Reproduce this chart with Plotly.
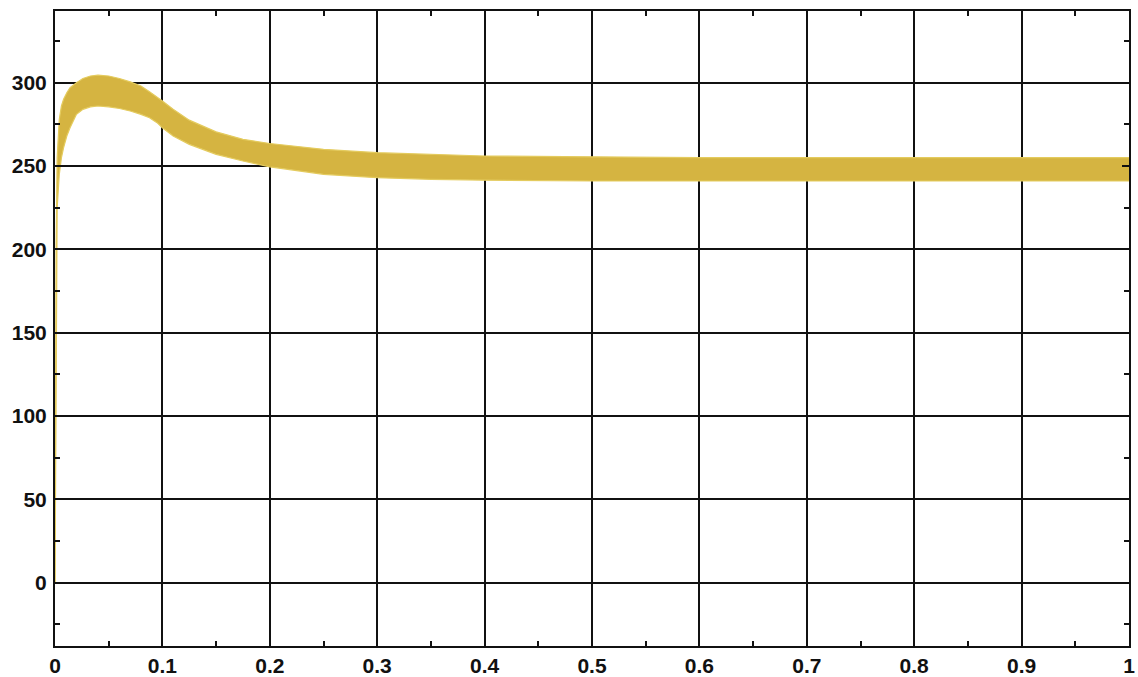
import plotly.graph_objects as go

# Envelope of the rippling signal
t = [0, 0.001, 0.002, 0.004, 0.006, 0.008, 0.011, 0.014, 0.02, 0.026, 0.033, 0.04,
     0.05, 0.06, 0.07, 0.08, 0.088, 0.095, 0.1, 0.11, 0.125, 0.15, 0.175, 0.2,
     0.25, 0.3, 0.35, 0.4, 0.5, 0.6, 0.7, 0.8, 0.9, 1.0]
upper = [0, 200, 255, 278, 286, 290, 294, 297, 300, 302.5, 304, 304.5,
         304, 302.5, 300.5, 298, 294.5, 291.5, 289, 284, 277.5, 270.5, 266, 263.5,
         260, 258, 257, 256, 255.5, 255, 255, 255, 255, 255]
lower = [0, 150, 225, 245, 255, 261, 268, 273, 281, 284, 285.5, 286,
         285.5, 284.5, 283, 281, 279, 276, 273, 268, 263, 257, 253, 249.5,
         245, 243, 242, 241.5, 241, 241, 241, 241, 241, 241]

x_ticks = [0, 0.1, 0.2, 0.3, 0.4, 0.5, 0.6, 0.7, 0.8, 0.9, 1]
x_labels = ["0", "0.1", "0.2", "0.3", "0.4", "0.5", "0.6", "0.7", "0.8", "0.9", "1"]
y_ticks = [0, 50, 100, 150, 200, 250, 300]

band = "#D5B441"
edge = "#E4CB5E"

fig = go.Figure()
fig.add_trace(go.Scatter(x=t, y=lower, mode="lines", line=dict(color=edge, width=1.2),
                         showlegend=False, hoverinfo="skip"))
fig.add_trace(go.Scatter(x=t, y=upper, mode="lines", line=dict(color=edge, width=1.2),
                         fill="tonexty", fillcolor=band, showlegend=False, hoverinfo="skip"))

tickfont = dict(family="Liberation Sans, Arial, sans-serif", size=21, color="#111111", weight="bold")

fig.update_xaxes(range=[0, 1], tickvals=x_ticks, ticktext=x_labels, automargin=False,
                 showgrid=True, gridcolor="#111111", gridwidth=1.6,
                 showline=True, linecolor="#111111", linewidth=2, mirror="allticks",
                 ticks="inside", ticklen=7, tickwidth=2, tickcolor="#111111",
                 minor=dict(dtick=0.05, tick0=0, ticks="inside", ticklen=5, tickwidth=1.5,
                            tickcolor="#111111", showgrid=False),
                 zeroline=False, tickfont=tickfont, ticklabelstandoff=0)
fig.update_yaxes(range=[-38, 343], tickvals=y_ticks, automargin=False,
                 showgrid=True, gridcolor="#111111", gridwidth=1.6,
                 showline=True, linecolor="#111111", linewidth=2, mirror="allticks",
                 ticks="inside", ticklen=7, tickwidth=2, tickcolor="#111111",
                 minor=dict(dtick=25, tick0=0, ticks="inside", ticklen=5, tickwidth=1.5,
                            tickcolor="#111111", showgrid=False),
                 zeroline=False, tickfont=tickfont, ticklabelstandoff=2)

fig.update_layout(width=1138, height=677, margin=dict(l=55, r=9, t=11, b=31, autoexpand=False),
                  paper_bgcolor="white", plot_bgcolor="white", showlegend=False)

fig.write_html("out.html")
